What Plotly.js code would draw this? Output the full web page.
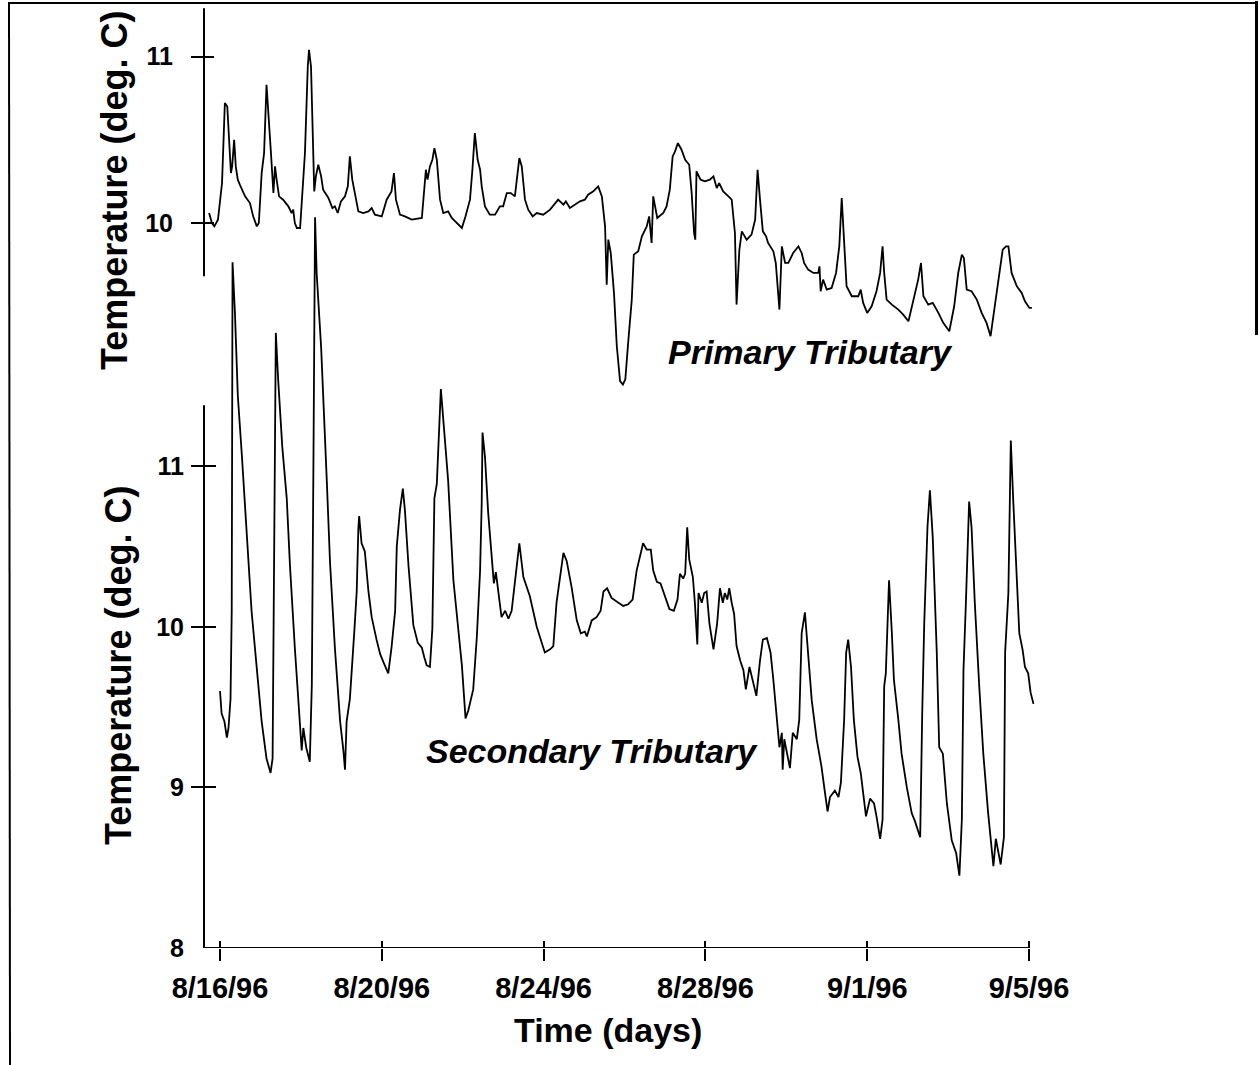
<!DOCTYPE html>
<html>
<head>
<meta charset="utf-8">
<script src="https://cdn.plot.ly/plotly-3.0.1.min.js"></script>
<style>
  html, body { margin: 0; padding: 0; background: #fff; }
  #wrap { position: relative; width: 1259px; height: 1065px; overflow: hidden; }
  #chart { width: 1259px; height: 1065px; }
  #rightEdge { position: absolute; left: 1255px; top: 1px; width: 3px; height: 334px; background: #000; }
</style>
</head>
<body>
<div id="wrap">
<div id="chart"></div>
<div id="rightEdge"></div>
</div>
<script>
// ---------------- DATA (days since 8/16/96 00:00, temperature deg C) ----------------
const startDate = Date.UTC(1996, 7, 16);

const primaryDays = [-0.27,-0.20,-0.14,-0.05,0.05,0.12,0.18,0.22,0.27,0.30,
0.35,0.39,0.44,0.49,0.62,0.74,0.82,0.91,0.96,1.03,
1.09,1.15,1.19,1.26,1.32,1.36,1.40,1.46,1.56,1.69,
1.77,1.81,1.85,1.90,1.98,2.02,2.10,2.17,2.20,2.25,
2.28,2.33,2.37,2.43,2.50,2.55,2.68,2.78,2.84,2.91,
2.99,3.09,3.16,3.21,3.27,3.34,3.42,3.54,3.67,3.75,
3.83,4.00,4.12,4.24,4.30,4.35,4.45,4.57,4.74,4.99,
5.05,5.09,5.13,5.19,5.25,5.30,5.36,5.44,5.52,5.64,
5.73,5.85,5.98,6.07,6.18,6.24,6.30,6.37,6.43,6.47,
6.55,6.67,6.80,6.92,7.00,7.09,7.19,7.29,7.40,7.46,
7.54,7.62,7.73,7.83,7.99,8.16,8.28,8.36,8.49,8.55,
8.65,8.78,8.90,9.02,9.10,9.23,9.35,9.44,9.52,9.56,
9.60,9.66,9.74,9.81,9.89,9.96,10.02,10.09,10.18,10.23,
10.34,10.43,10.55,10.61,10.67,10.71,10.81,10.96,11.04,11.12,
11.19,11.25,11.32,11.41,11.50,11.60,11.66,11.72,11.75,11.78,
11.88,11.99,12.11,12.20,12.28,12.34,12.44,12.57,12.65,12.73,
12.77,12.84,12.90,13.02,13.14,13.23,13.29,13.35,13.42,13.50,
13.55,13.68,13.74,13.83,13.89,13.97,14.05,14.17,14.30,14.38,
14.44,14.54,14.67,14.79,14.82,14.85,14.91,15.00,15.12,15.23,
15.31,15.37,15.43,15.49,15.62,15.78,15.84,15.90,16.00,16.11,
16.23,16.32,16.38,16.42,16.48,16.61,16.77,16.89,17.02,17.14,
17.26,17.33,17.39,17.51,17.62,17.76,17.88,18.03,18.15,18.25,
18.34,18.39,18.46,18.58,18.71,18.83,18.95,19.05,19.16,19.24,
19.35,19.43,19.49,19.57,19.70,19.82,19.90,20.01,20.07];

const primaryTemp = [10.06,10.00,9.98,10.02,10.24,10.72,10.70,10.54,10.30,10.34,
10.50,10.34,10.26,10.23,10.16,10.12,10.04,9.98,10.00,10.30,
10.42,10.83,10.70,10.42,10.18,10.34,10.26,10.16,10.14,10.10,
10.06,10.08,10.00,9.97,9.97,10.14,10.42,10.94,11.04,10.94,
10.64,10.19,10.28,10.35,10.28,10.20,10.15,10.09,10.10,10.06,
10.13,10.16,10.22,10.40,10.26,10.16,10.07,10.06,10.07,10.09,
10.05,10.04,10.14,10.19,10.30,10.14,10.05,10.04,10.02,10.03,
10.22,10.32,10.26,10.34,10.38,10.45,10.38,10.14,10.06,10.07,
10.03,10.00,9.97,10.04,10.14,10.32,10.54,10.38,10.32,10.22,
10.10,10.05,10.05,10.10,10.10,10.18,10.18,10.16,10.39,10.34,
10.14,10.08,10.04,10.06,10.05,10.08,10.12,10.14,10.11,10.13,
10.09,10.11,10.13,10.14,10.17,10.19,10.22,10.16,9.98,9.63,
9.90,9.82,9.58,9.26,9.05,9.03,9.06,9.28,9.54,9.81,
9.83,9.92,9.98,10.04,9.88,10.16,10.03,10.06,10.10,10.20,
10.40,10.43,10.48,10.44,10.38,10.35,10.18,9.94,9.90,10.31,
10.26,10.25,10.26,10.28,10.21,10.24,10.19,10.16,10.14,9.94,
9.51,9.84,9.95,9.90,9.93,10.02,10.32,10.14,9.95,9.92,
9.88,9.83,9.76,9.48,9.86,9.76,9.76,9.82,9.86,9.82,
9.76,9.72,9.70,9.70,9.74,9.59,9.66,9.60,9.61,9.70,
9.86,10.15,9.84,9.62,9.56,9.56,9.60,9.52,9.46,9.50,
9.59,9.70,9.86,9.70,9.54,9.51,9.48,9.45,9.41,9.54,
9.66,9.76,9.56,9.51,9.52,9.46,9.40,9.35,9.50,9.70,
9.81,9.79,9.60,9.59,9.54,9.46,9.40,9.32,9.50,9.66,
9.84,9.86,9.86,9.70,9.62,9.58,9.53,9.49,9.49];

const secondaryDays = [0.00,0.04,0.11,0.17,0.21,0.26,0.29,0.31,0.37,0.44,
0.54,0.66,0.78,0.91,1.03,1.15,1.25,1.30,1.34,1.38,
1.44,1.54,1.65,1.73,1.85,1.98,2.02,2.06,2.13,2.22,
2.27,2.31,2.35,2.39,2.50,2.64,2.72,2.84,2.97,3.05,
3.09,3.13,3.21,3.32,3.38,3.42,3.44,3.50,3.58,3.67,
3.75,3.87,3.96,4.04,4.16,4.24,4.33,4.37,4.45,4.52,
4.57,4.66,4.78,4.89,4.99,5.05,5.11,5.19,5.25,5.30,
5.36,5.46,5.52,5.64,5.77,5.89,5.98,6.07,6.14,6.26,
6.35,6.43,6.47,6.49,6.55,6.63,6.72,6.77,6.82,6.88,
6.96,7.05,7.13,7.21,7.27,7.40,7.50,7.66,7.83,7.95,
8.03,8.16,8.24,8.32,8.41,8.49,8.57,8.69,8.82,8.92,
9.02,9.07,9.19,9.31,9.41,9.48,9.57,9.68,9.85,9.97,
10.09,10.20,10.30,10.38,10.46,10.55,10.65,10.71,10.80,10.89,
11.00,11.11,11.22,11.31,11.37,11.45,11.50,11.55,11.60,11.69,
11.74,11.80,11.83,11.91,11.97,12.03,12.10,12.20,12.29,12.36,
12.43,12.48,12.54,12.59,12.65,12.71,12.77,12.86,12.94,13.00,
13.09,13.17,13.26,13.35,13.42,13.52,13.61,13.68,13.75,13.80,
13.83,13.89,13.91,13.95,14.01,14.09,14.16,14.26,14.32,14.38,
14.46,14.53,14.63,14.75,14.87,14.96,15.02,15.08,15.20,15.29,
15.35,15.43,15.48,15.53,15.60,15.67,15.76,15.84,15.92,15.97,
16.07,16.17,16.23,16.32,16.38,16.42,16.46,16.54,16.61,16.66,
16.77,16.85,16.98,17.10,17.18,17.31,17.36,17.41,17.49,17.55,
17.62,17.72,17.78,17.87,17.97,18.09,18.20,18.28,18.34,18.38,
18.44,18.52,18.58,18.66,18.77,18.87,18.99,19.12,19.18,19.24,
19.30,19.38,19.41,19.49,19.55,19.61,19.70,19.76,19.84,19.90,
19.98,20.04,20.11];

const secondaryTemp = [9.60,9.46,9.41,9.31,9.37,9.55,10.10,12.27,11.95,11.44,
11.07,10.57,10.10,9.74,9.41,9.18,9.09,9.18,10.80,11.83,
11.53,11.12,10.80,10.38,9.87,9.41,9.23,9.37,9.25,9.16,
9.64,11.03,12.55,12.20,11.74,10.91,10.40,9.87,9.41,9.23,
9.11,9.41,9.55,9.97,10.22,10.61,10.69,10.52,10.47,10.22,
10.06,9.92,9.83,9.78,9.71,9.87,10.10,10.50,10.73,10.86,
10.73,10.38,10.01,9.90,9.87,9.81,9.76,9.75,9.99,10.80,
10.89,11.48,11.30,10.91,10.29,9.99,9.76,9.43,9.48,9.61,
9.94,10.35,10.77,11.21,11.06,10.71,10.44,10.27,10.34,10.21,
10.06,10.10,10.05,10.10,10.23,10.52,10.31,10.19,10.00,9.91,
9.84,9.86,9.88,10.15,10.31,10.46,10.41,10.25,10.04,9.96,
9.97,9.94,10.04,10.06,10.10,10.22,10.24,10.18,10.15,10.13,
10.14,10.17,10.35,10.44,10.52,10.48,10.48,10.35,10.28,10.27,
10.19,10.11,10.10,10.17,10.33,10.30,10.33,10.62,10.42,10.31,
10.15,9.89,10.21,10.15,10.21,10.22,10.02,9.86,10.02,10.24,
10.15,10.21,10.17,10.24,10.15,10.08,9.88,9.79,9.73,9.61,
9.75,9.67,9.57,9.79,9.92,9.93,9.84,9.67,9.46,9.36,
9.25,9.34,9.11,9.30,9.23,9.12,9.34,9.30,9.42,9.96,
10.09,9.88,9.54,9.30,9.13,8.96,8.85,8.94,8.98,8.94,
9.03,9.42,9.84,9.92,9.75,9.42,9.19,9.09,8.94,8.82,
8.93,8.90,8.82,8.68,8.80,9.63,9.71,10.29,9.96,9.67,
9.42,9.21,9.00,8.84,8.79,8.69,9.46,10.02,10.62,10.85,
10.56,9.84,9.25,9.21,8.90,8.67,8.59,8.45,8.80,9.73,
10.15,10.78,10.62,10.15,9.63,9.21,8.84,8.51,8.68,8.59,
8.52,8.69,9.84,10.21,11.16,10.79,10.29,9.96,9.86,9.75,
9.71,9.59,9.52];

const xTickDays = [0, 4, 8, 12, 16, 20];
const xTickText = ['8/16/96', '8/20/96', '8/24/96', '8/28/96', '9/1/96', '9/5/96'];
const primaryTickVals = [10, 11];
const primaryTickText = ['10', '11'];
const secondaryTickVals = [8, 9, 10, 11];
const secondaryTickText = ['8', '9', '10', '11'];

// ---------------- LAYOUT ----------------
const W = 1259, H = 1065;
const M = {l: 204, r: 214, t: 5, b: 117};
const plotW = W - M.l - M.r, plotH = H - M.t - M.b;
const px = p => (p - M.l) / plotW;          // page pixel -> paper x
const py = p => (H - M.b - p) / plotH;      // page pixel -> paper y
const toMs = d => startDate + d * 86400000;

const FONT = 'Liberation Sans, Arial, Helvetica, sans-serif';
const xRange = [toMs(-0.3956), toMs(20.3956)];
const yRange = [8, 8 + plotH / 160.6];                 // secondary panel axis
const y2Range = [10 - (H - M.b - 223) / 166.5, 10 + (223 - M.t) / 166.5]; // primary panel axis
const topAxisSpan = [9.68, 11.29];
const bottomAxisSpan = [8, 11.38];

const traces = [
  {x: primaryDays.map(toMs), y: primaryTemp, type: 'scatter', mode: 'lines',
   xaxis: 'x', yaxis: 'y2', line: {color: '#000', width: 1.8}, name: 'Primary Tributary'},
  {x: secondaryDays.map(toMs), y: secondaryTemp, type: 'scatter', mode: 'lines',
   xaxis: 'x', yaxis: 'y', line: {color: '#000', width: 1.8}, name: 'Secondary Tributary'},
  {x: [], y: [], xaxis: 'x2', yaxis: 'y3', type: 'scatter', mode: 'lines', showlegend: false},
  {x: [], y: [], xaxis: 'x', yaxis: 'y4', type: 'scatter', mode: 'lines', showlegend: false},
  {x: [], y: [], xaxis: 'x', yaxis: 'y5', type: 'scatter', mode: 'lines', showlegend: false}
];

const tickFontX = {family: FONT, size: 29, color: '#000', weight: 'bold'};
const tickFontY = {family: FONT, size: 25, color: '#000', weight: 'bold'};
const xTickVals = xTickDays.map(toMs);
const noGrid = {showline: false, showgrid: false, zeroline: false};

const layout = {
  width: W, height: H, margin: M,
  paper_bgcolor: '#fff', plot_bgcolor: '#fff',
  showlegend: false,
  xaxis: Object.assign({type: 'date', range: xRange, tickmode: 'array', tickvals: xTickVals, ticktext: xTickText,
          ticks: 'outside', ticklen: 12, tickwidth: 2, tickcolor: '#000',
          tickfont: tickFontX, ticklabelstandoff: 2, anchor: 'y'}, noGrid),
  xaxis2: Object.assign({type: 'date', range: xRange, overlaying: 'x', anchor: 'y', side: 'bottom',
           tickmode: 'array', tickvals: xTickVals, ticks: 'inside', ticklen: 7, tickwidth: 2,
           tickcolor: '#000', showticklabels: false}, noGrid),
  // secondary panel: labels only (8..11)
  yaxis: Object.assign({range: yRange, tickmode: 'array', tickvals: secondaryTickVals, ticktext: secondaryTickText,
          ticks: '', tickfont: tickFontY, ticklabelstandoff: 19, anchor: 'x'}, noGrid),
  // primary panel: labels + outside ticks
  yaxis2: Object.assign({range: y2Range, overlaying: 'y', side: 'left', anchor: 'x', tickmode: 'array',
           tickvals: primaryTickVals, ticktext: primaryTickText, ticks: 'outside', ticklen: 12,
           tickwidth: 2, tickcolor: '#000', tickfont: tickFontY, ticklabelstandoff: 13}, noGrid),
  // secondary panel: inside tick halves
  yaxis3: Object.assign({range: yRange, overlaying: 'y', side: 'left', anchor: 'x', tickmode: 'array',
           tickvals: secondaryTickVals.slice(1), ticks: 'inside', ticklen: 12, tickwidth: 2,
           tickcolor: '#000', showticklabels: false}, noGrid),
  // primary panel: inside tick halves
  yaxis4: Object.assign({range: y2Range, overlaying: 'y', side: 'left', anchor: 'x', tickmode: 'array',
           tickvals: primaryTickVals, ticks: 'inside', ticklen: 10, tickwidth: 2,
           tickcolor: '#000', showticklabels: false}, noGrid),
  // secondary panel: outside tick halves (no tick at the corner value 8)
  yaxis5: Object.assign({range: yRange, overlaying: 'y', side: 'left', anchor: 'x', tickmode: 'array',
           tickvals: secondaryTickVals.slice(1), ticks: 'outside', ticklen: 12, tickwidth: 2,
           tickcolor: '#000', showticklabels: false}, noGrid),
  shapes: [
    // axis lines
    {type: 'line', xref: 'paper', yref: 'y2', x0: 0, x1: 0, y0: topAxisSpan[0], y1: topAxisSpan[1],
     line: {color: '#000', width: 2}},
    {type: 'line', xref: 'paper', yref: 'y', x0: 0, x1: 0, y0: bottomAxisSpan[0], y1: bottomAxisSpan[1],
     line: {color: '#000', width: 2}},
    {type: 'line', xref: 'x', yref: 'y', x0: xRange[0], x1: toMs(xTickDays[xTickDays.length - 1]),
     y0: 8, y1: 8, line: {color: '#000', width: 2}},
    // figure frame
    {type: 'line', xref: 'paper', yref: 'paper', x0: px(8), x1: px(1257), y0: py(3), y1: py(3),
     line: {color: '#000', width: 2}},
    {type: 'line', xref: 'paper', yref: 'paper', x0: px(9), x1: px(10), y0: py(3), y1: py(1065),
     line: {color: '#000', width: 2}}
  ],
  annotations: [
    {text: 'Temperature (deg. C)', xref: 'paper', yref: 'paper', x: px(115), y: py(191),
     textangle: -90, showarrow: false, xanchor: 'center', yanchor: 'middle',
     font: {family: FONT, size: 36, color: '#000', weight: 'bold'}},
    {text: 'Temperature (deg. C)', xref: 'paper', yref: 'paper', x: px(118), y: py(666),
     textangle: -90, showarrow: false, xanchor: 'center', yanchor: 'middle',
     font: {family: FONT, size: 36, color: '#000', weight: 'bold'}},
    {text: 'Time (days)', xref: 'paper', yref: 'paper', x: px(608), y: py(1030),
     showarrow: false, xanchor: 'center', yanchor: 'middle',
     font: {family: FONT, size: 34, color: '#000', weight: 'bold'}},
    {text: 'Primary Tributary', xref: 'paper', yref: 'paper', x: px(810), y: py(352),
     showarrow: false, xanchor: 'center', yanchor: 'middle',
     font: {family: FONT, size: 34, color: '#000', weight: 'bold', style: 'italic'}},
    {text: 'Secondary Tributary', xref: 'paper', yref: 'paper', x: px(592), y: py(751),
     showarrow: false, xanchor: 'center', yanchor: 'middle',
     font: {family: FONT, size: 34, color: '#000', weight: 'bold', style: 'italic'}}
  ]
};

Plotly.newPlot('chart', traces, layout, {displayModeBar: false, staticPlot: true});
</script>
</body>
</html>
